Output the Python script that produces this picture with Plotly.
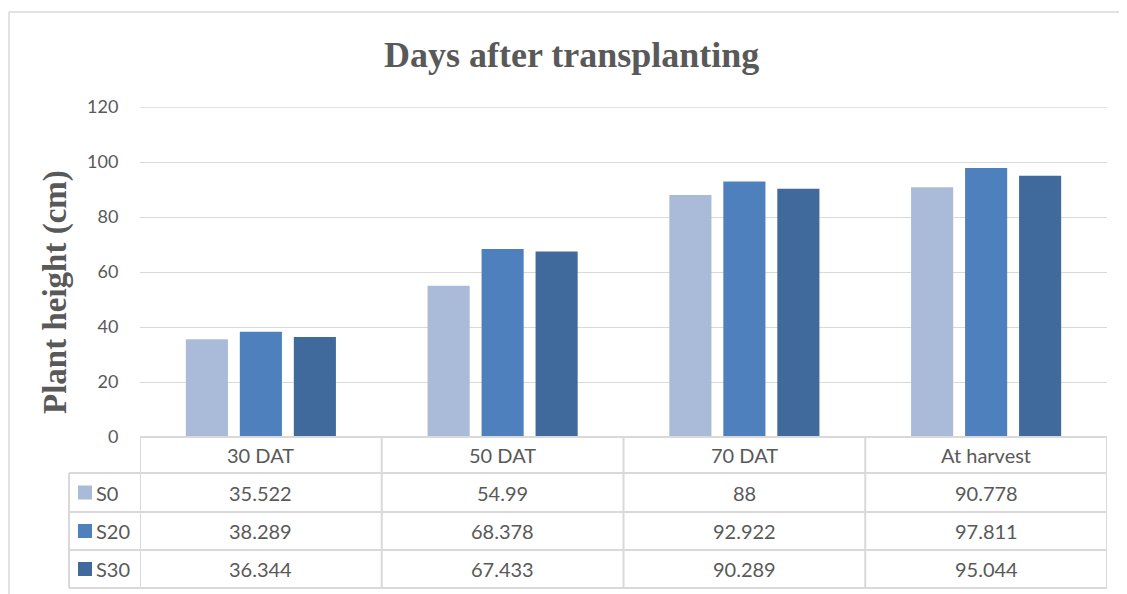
import plotly.graph_objects as go

# ---- data ----
categories = ["30 DAT", "50 DAT", "70 DAT", "At harvest"]
series_names = ["S0", "S20", "S30"]
s0_values = [35.522, 54.99, 88, 90.778]
s20_values = [38.289, 68.378, 92.922, 97.811]
s30_values = [36.344, 67.433, 90.289, 95.044]
y_ticks = [0, 20, 40, 60, 80, 100, 120]

series_values = [s0_values, s20_values, s30_values]
colors = ["#AABBD9", "#4E80BD", "#3F6A9B"]

W, H = 1127, 594
OFF = 8  # page body margin: figure is drawn 8px right/down in the window
# plot area in screen pixels
SL, SR, ST, SB = 140, 1107, 107, 437
L, Rr, T, B = SL - OFF, SR - OFF, ST - OFF, SB - OFF


def px(x):  # screen x -> paper
    return (x - OFF - L) / (Rr - L)


def py(y):  # screen y -> paper
    return (B - (y - OFF)) / (B - T)


TEXT = "#595959"
LINE = "#D9D9D9"
SANS = "Lato, 'Open Sans', sans-serif"
SERIF = "'Liberation Serif', 'DejaVu Serif', serif"

fig = go.Figure()
for name, vals, col in zip(series_names, series_values, colors):
    fig.add_trace(go.Bar(x=categories, y=vals, name=name, marker_color=col,
                         marker_line_width=0))

shapes = []
annotations = []

# outer chart border (left and top visible)
shapes.append(dict(type="line", xref="paper", yref="paper",
                   x0=px(9), x1=px(1140), y0=py(12), y1=py(12),
                   line=dict(color=LINE, width=1.5)))
shapes.append(dict(type="line", xref="paper", yref="paper",
                   x0=px(9), x1=px(9), y0=py(12), y1=py(610),
                   line=dict(color=LINE, width=1.5)))

# top gridline (max of range)
shapes.append(dict(type="line", xref="paper", yref="y", x0=0, x1=1,
                   y0=y_ticks[-1], y1=y_ticks[-1], layer="below",
                   line=dict(color=LINE, width=1.3)))

# data table
row_edges = [437, 473, 512, 550, 588]
n = len(categories)
shapes.append(dict(type="line", xref="paper", yref="paper",
                   x0=0, x1=1, y0=py(row_edges[0]), y1=py(row_edges[0]),
                   line=dict(color=LINE, width=2)))
for ye in row_edges[1:]:
    shapes.append(dict(type="line", xref="paper", yref="paper",
                       x0=px(69), x1=1, y0=py(ye), y1=py(ye),
                       line=dict(color=LINE, width=2)))
for i in range(n + 1):
    shapes.append(dict(type="line", xref="x", yref="paper",
                       x0=i - 0.5, x1=i - 0.5, y0=py(437), y1=py(588),
                       line=dict(color=LINE, width=2)))
shapes.append(dict(type="line", xref="paper", yref="paper",
                   x0=px(69), x1=px(69), y0=py(473), y1=py(588),
                   line=dict(color=LINE, width=2)))

TFS = 20
# header row
for i, c in enumerate(categories):
    annotations.append(dict(x=i, y=py((row_edges[0] + row_edges[1]) / 2),
                            xref="x", yref="paper", text=c, showarrow=False,
                            xanchor="center", yanchor="middle",
                            font=dict(family=SANS, size=TFS, color=TEXT)))
# series rows
for r, (name, vals, col) in enumerate(zip(series_names, series_values, colors)):
    yc = (row_edges[r + 1] + row_edges[r + 2]) / 2
    for i, v in enumerate(vals):
        annotations.append(dict(x=i, y=py(yc), xref="x", yref="paper",
                                text="{:g}".format(v), showarrow=False,
                                xanchor="center", yanchor="middle",
                                font=dict(family=SANS, size=TFS, color=TEXT)))
    shapes.append(dict(type="rect", xref="paper", yref="paper",
                       x0=px(78), x1=px(92), y0=py(yc - 7), y1=py(yc + 7),
                       fillcolor=col, line=dict(width=0)))
    annotations.append(dict(x=px(94), y=py(yc), xref="paper", yref="paper",
                            text=name, showarrow=False, xanchor="left",
                            yanchor="middle",
                            font=dict(family=SANS, size=TFS, color=TEXT)))

# title
annotations.append(dict(x=px(571), y=py(55), xref="paper", yref="paper",
                        text="<b>Days after transplanting</b>", showarrow=False,
                        xanchor="center", yanchor="middle",
                        font=dict(family=SERIF, size=36, color=TEXT)))
# y-axis title
annotations.append(dict(x=px(55), y=py(292), xref="paper", yref="paper",
                        text="<b>Plant height (cm)</b>", showarrow=False,
                        textangle=-90, xanchor="center", yanchor="middle",
                        font=dict(family=SERIF, size=33, color=TEXT)))

fig.update_layout(
    width=W, height=H,
    margin=dict(l=L, r=W - Rr, t=T, b=H - B),
    paper_bgcolor="white", plot_bgcolor="white",
    barmode="group", bargap=0.33, bargroupgap=0.22,
    showlegend=False,
    shapes=shapes, annotations=annotations,
    xaxis=dict(type="category", range=[-0.5, n - 0.5], showticklabels=False,
               showgrid=False, zeroline=False, showline=False, ticks=""),
    yaxis=dict(range=[0, 120], tickvals=y_ticks, showgrid=True,
               gridcolor=LINE, gridwidth=1.3, zeroline=False, showline=False,
               ticks="outside", ticklen=17, tickcolor="rgba(0,0,0,0)",
               tickfont=dict(family=SANS, size=18, color=TEXT)),
)

fig.write_html("out.html")
